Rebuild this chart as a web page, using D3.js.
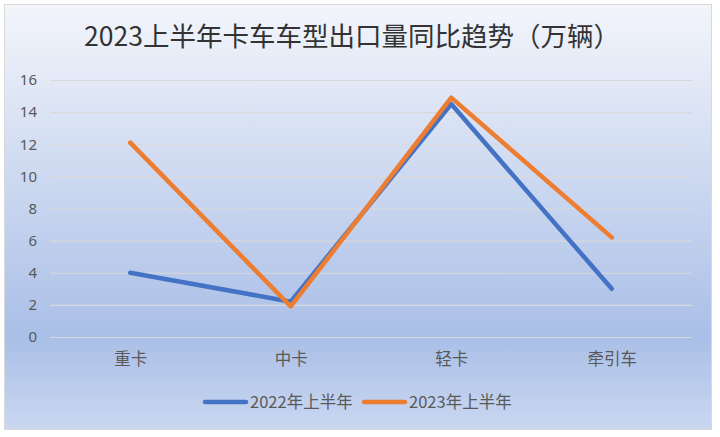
<!DOCTYPE html>
<html>
<head>
<meta charset="utf-8">
<script src="https://cdn.jsdelivr.net/npm/d3@7"></script>
<style>
  html, body { margin: 0; padding: 0; background: #fff; }
  svg { display: block; font-family: "Noto Sans CJK SC", "Noto Sans", sans-serif; }
</style>
</head>
<body>
<div id="chart"></div>
<script>
const categories = ["重卡", "中卡", "轻卡", "牵引车"];
const values2022 = [4.0, 2.2, 14.5, 3.0];
const values2023 = [12.1, 1.9, 14.9, 6.2];
const seriesNames = ["2022年上半年", "2023年上半年"];
const yTicks = [0, 2, 4, 6, 8, 10, 12, 14, 16];
const titleText = "2023上半年卡车车型出口量同比趋势（万辆）";

const width = 720;
const height = 437;
const margin = { top: 80, right: 28, bottom: 100, left: 50 };
const colors = ["#4472c4", "#ed7d31"];

const svg = d3.select("#chart")
    .append("svg")
    .attr("width", width)
    .attr("height", height);

// background gradient like the office chart area
const defs = svg.append("defs");
const grad = defs.append("linearGradient")
    .attr("id", "bg")
    .attr("x1", 0).attr("y1", 0).attr("x2", 0).attr("y2", 1);
grad.append("stop").attr("offset", "0%").attr("stop-color", "#f3f5fb");
grad.append("stop").attr("offset", "78%").attr("stop-color", "#aabfe7");
grad.append("stop").attr("offset", "100%").attr("stop-color", "#c9d7f0");

svg.append("rect")
    .attr("x", 4.5).attr("y", 4.5)
    .attr("width", 707).attr("height", 425)
    .attr("fill", "url(#bg)")
    .attr("stroke", "#d9d9d9")
    .attr("stroke-width", 1);

svg.append("text")
    .attr("x", 352)
    .attr("y", 46)
    .attr("text-anchor", "middle")
    .attr("font-size", 26.5)
    .attr("fill", "#333")
    .text(titleText);

const x = d3.scalePoint()
    .domain(categories)
    .range([margin.left, width - margin.right])
    .padding(0.5);

const y = d3.scaleLinear()
    .domain([0, 16])
    .range([height - margin.bottom, margin.top]);

// gridlines + y labels
svg.append("g")
    .attr("transform", `translate(${margin.left}, 0)`)
    .call(d3.axisLeft(y).tickValues(yTicks).tickSize(-(width - margin.right - margin.left)).tickFormat(d => d).tickPadding(13))
    .call(g => g.select(".domain").remove())
    .call(g => g.selectAll(".tick line").attr("stroke", "#d9d9d9").attr("stroke-width", 1.2))
    .call(g => g.selectAll(".tick text")
        .attr("fill", "#595959")
        .attr("font-size", 15)
        .attr("font-family", "\"Noto Sans\", sans-serif"));

svg.append("g")
    .attr("transform", `translate(0, ${height - margin.bottom})`)
    .call(d3.axisBottom(x).tickSize(0).tickPadding(16))
    .call(g => g.select(".domain").remove())
    .call(g => g.selectAll(".tick text")
        .attr("fill", "#595959")
        .attr("font-size", 16.5)
        .attr("font-family", "\"Noto Sans CJK SC\", sans-serif"));

const line = d3.line()
    .x((d, i) => x(categories[i]))
    .y(d => y(d));

[values2022, values2023].forEach((vals, i) => {
    svg.append("path")
        .datum(vals)
        .attr("fill", "none")
        .attr("stroke", colors[i])
        .attr("stroke-width", 4.5)
        .attr("stroke-linecap", "round")
        .attr("stroke-linejoin", "round")
        .attr("d", line);
});

// legend
const legend = svg.append("g").attr("transform", "translate(203, 402)");
const legendX = [0, 159];
seriesNames.forEach((name, i) => {
    const g = legend.append("g").attr("transform", `translate(${legendX[i]}, 0)`);
    g.append("line")
        .attr("x1", 2).attr("x2", 43)
        .attr("y1", 0).attr("y2", 0)
        .attr("stroke", colors[i])
        .attr("stroke-width", 4.5)
        .attr("stroke-linecap", "round");
    g.append("text")
        .attr("x", 47)
        .attr("y", 6)
        .attr("font-size", 16.5)
        .attr("fill", "#595959")
        .text(name);
});
</script>
</body>
</html>
